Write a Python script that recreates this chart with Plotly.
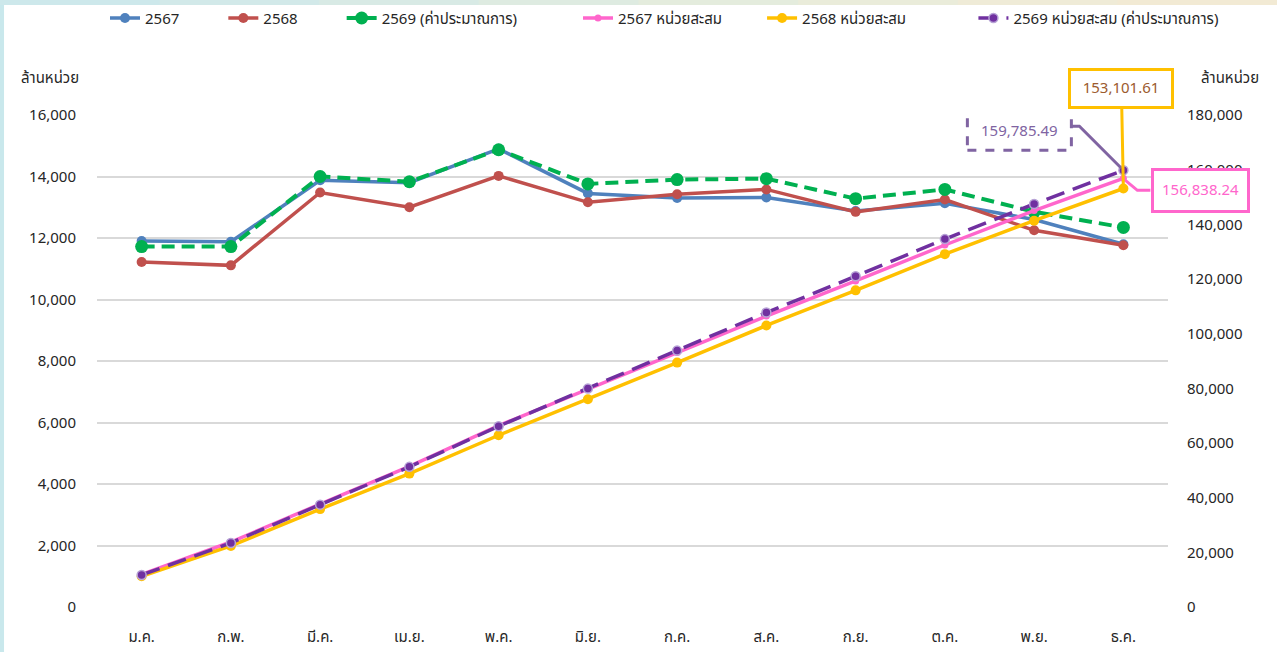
import plotly.graph_objects as go

months = ["ม.ค.", "ก.พ.", "มี.ค.", "เม.ย.", "พ.ค.", "มิ.ย.", "ก.ค.", "ส.ค.", "ก.ย.", "ต.ค.", "พ.ย.", "ธ.ค."]

units_2567 = [11900, 11880, 13880, 13800, 14900, 13450, 13300, 13320, 12880, 13130, 12600, 11798]
units_2568 = [11220, 11110, 13480, 13000, 14020, 13160, 13420, 13580, 12850, 13250, 12250, 11762]
units_2569 = [11720, 11720, 14000, 13830, 14870, 13760, 13900, 13930, 13280, 13580, 12850, 12345]

cum_2567 = [11900, 23780, 37660, 51460, 66360, 79810, 93110, 106430, 119310, 132440, 145040, 156838.24]
cum_2568 = [11220, 22330, 35810, 48810, 62830, 75990, 89410, 102990, 115840, 129090, 141340, 153101.61]
cum_2569 = [11720, 23440, 37440, 51270, 66140, 79900, 93800, 107730, 121010, 134590, 147440, 159785.49]

left_ticks = [0, 2000, 4000, 6000, 8000, 10000, 12000, 14000, 16000]
right_ticks = [0, 20000, 40000, 60000, 80000, 100000, 120000, 140000, 160000, 180000]

FONT = "Tahoma, 'Leelawadee UI', 'Noto Sans Thai', 'Noto Sans', 'DejaVu Sans', sans-serif"

BLUE = "#4F81BD"
RED = "#C0504D"
GREEN = "#00B050"
PINK = "#FF66CC"
YELLOW = "#FFC000"
PURPLE = "#7030A0"
LPURPLE = "#8064A2"
TXT = "#262626"


def pad(n):
    return "\u00a0" * n


fig = go.Figure()

fig.add_trace(go.Scatter(x=months, y=units_2567, name="2567" + pad(10), mode="lines+markers", legend="legend",
                         line=dict(color=BLUE, width=3.5), marker=dict(size=10, color=BLUE)))
fig.add_trace(go.Scatter(x=months, y=units_2568, name="2568" + pad(10), mode="lines+markers", legend="legend",
                         line=dict(color=RED, width=3.5), marker=dict(size=10, color=RED)))
fig.add_trace(go.Scatter(x=months, y=units_2569, name="2569 (ค่าประมาณการ)", mode="lines+markers", legend="legend",
                         line=dict(color=GREEN, width=4, dash="13px,7px"), marker=dict(size=13, color=GREEN)))
fig.add_trace(go.Scatter(x=months, y=cum_2567, name="2567 หน่วยสะสม" + pad(9), mode="lines+markers", yaxis="y2",
                         legend="legend2",
                         line=dict(color=PINK, width=3.5), marker=dict(size=7, color=PINK)))
fig.add_trace(go.Scatter(x=months, y=cum_2568, name="2568 หน่วยสะสม" + pad(16), mode="lines+markers", yaxis="y2",
                         legend="legend2",
                         line=dict(color=YELLOW, width=3.5), marker=dict(size=10, color=YELLOW)))
fig.add_trace(go.Scatter(x=months, y=cum_2569, name="2569 หน่วยสะสม (ค่าประมาณการ)", mode="lines+markers", yaxis="y2",
                         legend="legend2",
                         line=dict(color=PURPLE, width=3.5, dash="19px,9px"),
                         marker=dict(size=9, color=PURPLE, line=dict(color="#B7A3D6", width=1.5))))

shapes = []
# frame of the screenshot: thin cyan strip on the left, cyan-to-beige strip on top
shapes.append(dict(type="rect", xref="paper", yref="paper", x0=-0.0906, x1=-0.0868, y0=-0.0915, y1=1.2337,
                   fillcolor="#C9E8EC", line=dict(width=0), layer="above"))
strip_cols = ["#CDE8EB", "#D2E9E9", "#D8EAE5", "#DEEBE1", "#E4ECDD", "#EAECDA", "#EFEBD7", "#F2EAD4"]
n = len(strip_cols)
span = 1.1924
for i, c in enumerate(strip_cols):
    x0 = -0.0906 + i * (span / n)
    shapes.append(dict(type="rect", xref="paper", yref="paper", x0=x0, x1=x0 + span / n + 0.001,
                       y0=1.2237, y1=1.2337, fillcolor=c, line=dict(width=0), layer="above"))

last = months[-1]
# purple dashed callout box
shapes.append(dict(type="rect", xref="x", yref="y2", xsizemode="pixel", ysizemode="pixel",
                   xanchor=last, yanchor=cum_2569[-1], x0=-156, x1=-52, y0=20, y1=58,
                   line=dict(color=LPURPLE, width=3, dash="dash"), fillcolor="rgba(255,255,255,1)"))
shapes.append(dict(type="path", xref="x", yref="y2", xsizemode="pixel", ysizemode="pixel",
                   xanchor=last, yanchor=cum_2569[-1], path="M -52 44 L -44 44 L -2 2",
                   line=dict(color=LPURPLE, width=3)))
# pink connector
shapes.append(dict(type="path", xref="x", yref="y2", xsizemode="pixel", ysizemode="pixel",
                   xanchor=last, yanchor=cum_2567[-1], path="M 2 -2 L 14 -12 L 27 -12",
                   line=dict(color=PINK, width=3)))

annotations = [
    dict(text="ล้านหน่วย", xref="paper", yref="paper", x=-0.044, y=1.075, xanchor="center", yanchor="middle",
         showarrow=False, font=dict(size=15, color=TXT, family=FONT)),
    dict(text="ล้านหน่วย", xref="paper", yref="paper", x=1.058, y=1.075, xanchor="center", yanchor="middle",
         showarrow=False, font=dict(size=15, color=TXT, family=FONT)),
    dict(text="153,101.61", x=last, y=cum_2568[-1], yref="y2", ax=-2, ay=-100, showarrow=True,
         arrowhead=0, arrowcolor=YELLOW, arrowwidth=3, bordercolor=YELLOW, borderwidth=3,
         borderpad=6, bgcolor="white", width=88, font=dict(size=15, color="#9C5B2E", family=FONT)),
    dict(text="159,785.49", x=last, y=cum_2569[-1], yref="y2", xshift=-104, yshift=39, showarrow=False,
         font=dict(size=15, color=LPURPLE, family=FONT)),
    dict(text="156,838.24", x=last, y=cum_2567[-1], yref="y2", showarrow=False, xshift=77, yshift=-12,
         bordercolor=PINK, borderwidth=3, borderpad=8, bgcolor="white",
         font=dict(size=15, color=PINK, family=FONT)),
]

legend_common = dict(orientation="h", xref="container", yref="container", y=0.972,
                     xanchor="left", yanchor="middle",
                     font=dict(size=15, color=TXT, family=FONT), bgcolor="rgba(0,0,0,0)",
                     tracegroupgap=0)

fig.update_layout(
    width=1277, height=652,
    margin=dict(l=97, r=109, t=115, b=45),
    paper_bgcolor="white", plot_bgcolor="white",
    font=dict(family=FONT, size=15, color=TXT),
    showlegend=True,
    legend=dict(x=105 / 1277, **legend_common),
    legend2=dict(x=578 / 1277, **legend_common),
    xaxis=dict(type="category", range=[-0.5, 11.5], showgrid=False, zeroline=False, showline=False,
               ticks="", ticklabelstandoff=19, automargin=False, tickfont=dict(size=15, color=TXT)),
    yaxis=dict(range=[0, 16000], tickvals=left_ticks, tickformat=",d", showgrid=True, gridcolor="#D9D9D9",
               gridwidth=1.5, zeroline=False, showline=False, ticks="", ticklabelstandoff=20,
               automargin=False, tickfont=dict(size=15, color=TXT)),
    yaxis2=dict(range=[0, 180000], tickvals=right_ticks, tickformat=",d", overlaying="y", side="right",
                showgrid=False, zeroline=False, showline=False, ticks="", ticklabelstandoff=18,
                automargin=False, tickfont=dict(size=15, color=TXT)),
    shapes=shapes,
    annotations=annotations,
)

fig.write_html("out.html", config={"displayModeBar": False},
               post_script="document.body.style.margin='0';document.body.style.overflow='hidden';")
